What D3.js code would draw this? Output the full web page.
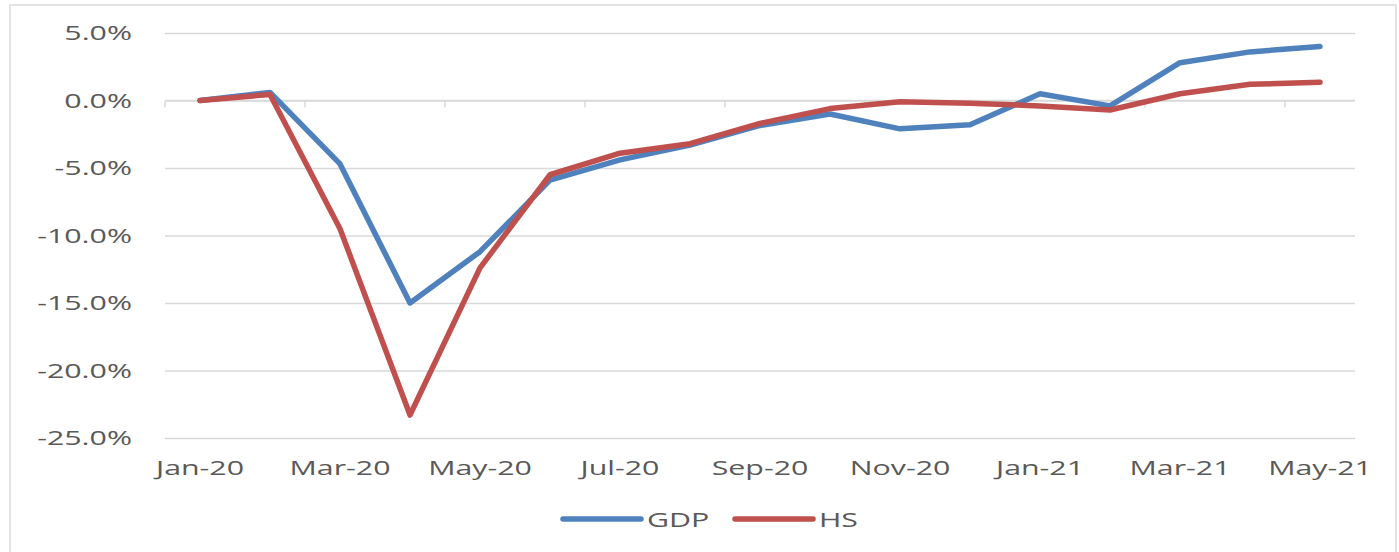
<!DOCTYPE html>
<html>
<head>
<meta charset="utf-8">
<script src="https://cdn.jsdelivr.net/npm/d3@7"></script>
<style>
  body { margin: 0; background: #fff; }
  text { font-family: "Open Sans", sans-serif; fill: #595959; }
</style>
</head>
<body>
<div id="chart"></div>
<script>
// data (monthly % change vs Jan-20)
const months = ["Jan-20", "Feb-20", "Mar-20", "Apr-20", "May-20", "Jun-20", "Jul-20", "Aug-20", "Sep-20",
  "Oct-20", "Nov-20", "Dec-20", "Jan-21", "Feb-21", "Mar-21", "Apr-21", "May-21"];
const gdp = [0, 0.6, -4.7, -15.0, -11.2, -5.9, -4.4, -3.3, -1.85, -1.0, -2.1, -1.8, 0.5, -0.4, 2.8, 3.6, 4.0];
const hs = [0, 0.45, -9.5, -23.3, -12.4, -5.5, -3.9, -3.2, -1.7, -0.6, -0.1, -0.2, -0.4, -0.7, 0.5, 1.2, 1.35];
const yTicks = [5, 0, -5, -10, -15, -20, -25];
const seriesNames = ["GDP", "HS"];
const colors = ["#4F81BD", "#C0504D"];

const W = 1399, H = 552;
const margin = { top: 33, right: 44, bottom: 114, left: 165 };
const width = W - margin.left - margin.right;
const height = H - margin.top - margin.bottom;
const sx = 1.48; // text is stretched sideways in the original

const root = d3.select("#chart").append("svg")
  .attr("width", W)
  .attr("height", H);

// chart frame
root.append("rect")
  .attr("x", 10).attr("y", 5)
  .attr("width", 1386).attr("height", 560)
  .attr("fill", "none")
  .attr("stroke", "#d9d9d9")
  .attr("stroke-width", 1.5);

const svg = root.append("g")
  .attr("transform", `translate(${margin.left},${margin.top})`);

const x = d3.scaleBand().domain(months).range([0, width]);
const y = d3.scaleLinear().domain([-25, 5]).range([height, 0]);

// gridlines + y labels
const yAxis = svg.append("g")
  .call(d3.axisLeft(y).tickValues(yTicks).tickSize(-width).tickFormat(d => d.toFixed(1) + "%"));
yAxis.select(".domain").remove();
yAxis.selectAll("line").attr("stroke", "#d9d9d9").attr("stroke-width", 1.5);
yAxis.selectAll("text")
  .attr("x", 0)
  .attr("transform", `translate(-33,0) scale(${sx},1)`)
  .style("font-size", "20.5px")
  .attr("fill", "#595959");

// category axis sits on the 0% line, labels at the bottom
const bounds = d3.range(0, months.length, 2).map(i => i * x.step());
svg.append("line")
  .attr("x1", 0).attr("x2", width)
  .attr("y1", y(0)).attr("y2", y(0))
  .attr("stroke", "#d9d9d9").attr("stroke-width", 1.5);
svg.selectAll(".xtick")
  .data(bounds)
  .enter()
  .append("line")
  .attr("class", "xtick")
  .attr("x1", d => d).attr("x2", d => d)
  .attr("y1", y(0)).attr("y2", y(0) + 7)
  .attr("stroke", "#d9d9d9").attr("stroke-width", 1.5);

svg.selectAll(".xlabel")
  .data(months.filter((m, i) => i % 2 === 0))
  .enter()
  .append("text")
  .attr("class", "xlabel")
  .attr("text-anchor", "middle")
  .attr("transform", d => `translate(${x(d) + x.bandwidth() / 2},${height + 37}) scale(${sx},1)`)
  .style("font-size", "20.5px")
  .text(d => d);

// lines
const line = d3.line()
  .x((d, i) => x(months[i]) + x.bandwidth() / 2)
  .y(d => y(d));

[gdp, hs].forEach((vals, k) => {
  svg.append("path")
    .datum(vals)
    .attr("d", line)
    .attr("fill", "none")
    .attr("stroke", colors[k])
    .attr("stroke-width", 5.5)
    .attr("stroke-linejoin", "round")
    .attr("stroke-linecap", "round");
});

// legend
const legendX = [563, 735];
const legend = root.selectAll(".legend")
  .data(seriesNames)
  .enter()
  .append("g")
  .attr("class", "legend")
  .attr("transform", (d, i) => `translate(${legendX[i]},519)`);
legend.append("line")
  .attr("x1", 0).attr("x2", 78)
  .attr("stroke", (d, i) => colors[i])
  .attr("stroke-width", 5.5)
  .attr("stroke-linecap", "round");
legend.append("text")
  .attr("transform", `translate(84,8) scale(${sx},1)`)
  .style("font-size", "20.5px")
  .text(d => d);
</script>
</body>
</html>
